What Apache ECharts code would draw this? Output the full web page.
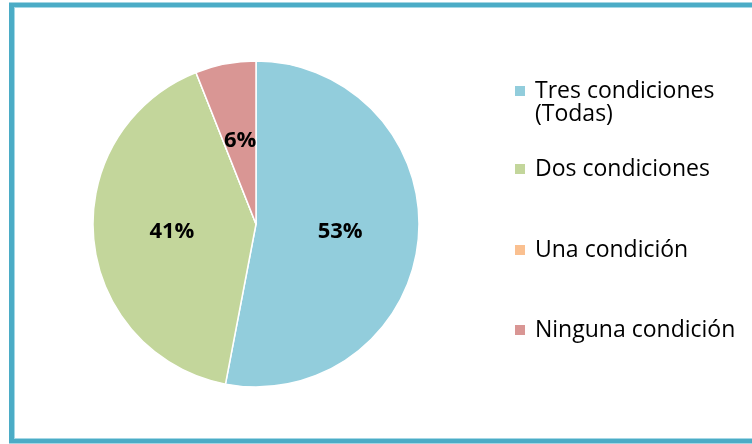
<!DOCTYPE html>
<html>
<head>
<meta charset="utf-8">
<script src="https://cdn.jsdelivr.net/npm/echarts@6/dist/echarts.min.js"></script>
<style>
	html, body { margin: 0; padding: 0; background: #fff; }
	#pie { width: 752px; height: 444px; }
</style>
</head>
<body>
<div id="pie"></div>
<script>
var categories = ['Tres condiciones (Todas)', 'Dos condiciones', 'Una condición', 'Ninguna condición'];
var values = [53, 41, 0, 6];
var colors = ['#92CDDC', '#C3D69B', '#FAC090', '#D99694'];

function pie() {
	var myChart = echarts.init(document.getElementById('pie'));
	var fontFamily = 'Open Sans';
	var legendTops = [91, 169, 250, 330]; //图例每一项（第一行）的中心
	var lh = 23;
	var legends = categories.map(function (name, i) {
		var lines = i === 0 ? 3 : 1;
		return {
			orient: 'vertical',
			left: 513,
			top: legendTops[i] - lines * lh / 2,
			padding: 0,
			itemWidth: 12,
			itemHeight: 12,
			itemGap: 0,
			icon: 'rect',
			selectedMode: false,
			data: [name],
			formatter: function (n) {
				//第一项分两行，上面加一个空行让图标对齐第一行
				return i === 0 ? ' \n' + n.replace(' (', '\n(') : n;
			},
			textStyle: {
				fontFamily: fontFamily,
				fontSize: 23,
				lineHeight: lh,
				color: '#000',
				padding: [0, 0, 0, 4]
			}
		};
	});
	option = {
		animation: false,
		color: colors,
		graphic: [{
			type: 'rect',
			shape: { x: 11.5, y: 5, width: 800, height: 436 },
			style: { fill: 'none', stroke: '#4BACC6', lineWidth: 5 }
		}, {
			type: 'rect',
			shape: { x: 14.5, y: 7.5, width: 800, height: 431 },
			style: { fill: 'none', stroke: '#A5D8E6', lineWidth: 1 }
		}],
		legend: legends,
		series: [{
			type: 'pie',
			center: [256, 224],
			radius: 163,
			startAngle: 90,
			clockwise: true,
			avoidLabelOverlap: false,
			itemStyle: {
				borderColor: '#fff',
				borderWidth: 1.5
			},
			label: {
				position: 'inside',
				fontFamily: fontFamily,
				fontSize: 22,
				fontWeight: 'bold',
				color: '#000',
				formatter: function (p) {
					return p.value ? Math.round(p.percent) + '%' : '';
				}
			},
			labelLine: { show: false },
			emphasis: { disabled: true },
			data: categories.map(function (name, i) {
				return { name: name, value: values[i] };
			})
		}]
	};
	myChart.setOption(option);
}
pie();
</script>
</body>
</html>
